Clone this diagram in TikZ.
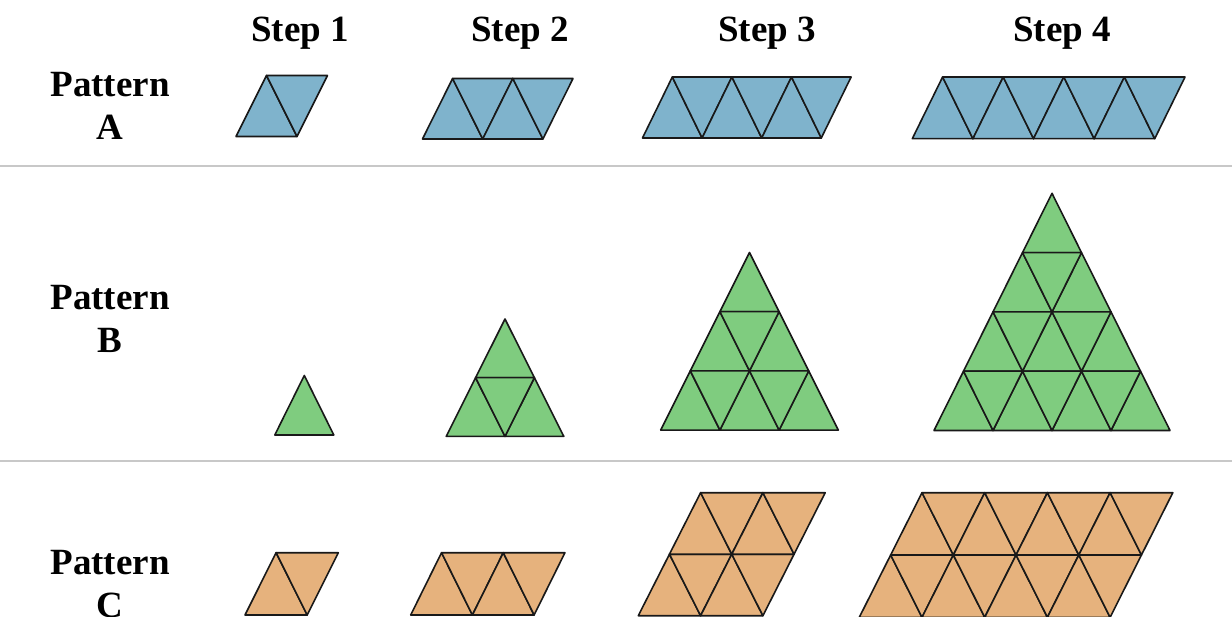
\documentclass[tikz,border=0pt]{standalone}
\usepackage{fontspec}
\setmainfont{Liberation Serif}
\definecolor{blueA}{RGB}{127,179,204}
\definecolor{greenB}{RGB}{127,204,127}
\definecolor{orangeC}{RGB}{230,178,125}
\definecolor{sepgray}{RGB}{200,200,200}
\definecolor{edge}{RGB}{25,25,25}
\tikzset{
  tile/.style={draw=edge, line width=1.6pt, line join=round},
  lbl/.style={font=\fontsize{37}{43}\selectfont\bfseries, inner sep=0pt, anchor=base, align=center},
  sepline/.style={draw=sepgray, line width=1.5pt}
}
% up triangle: bottom-left x, bottom y, base, height, fill
\newcommand{\uptri}[5]{\filldraw[tile, fill=#5] (#1,#2) -- ++(#3,0) -- ++(-#3/2,-#4) -- cycle;}
% down triangle: top-left x, top y, base, height, fill
\newcommand{\dntri}[5]{\filldraw[tile, fill=#5] (#1,#2) -- ++(#3,0) -- ++(-#3/2,#4) -- cycle;}
% parallelogram: x0, yb, b, h, n (width), m (rows), fill
\newcommand{\parapat}[7]{%
  \foreach \r in {1,...,#6}{%
    \foreach \i in {1,...,#5}{%
      \pgfmathsetmacro{\xb}{#1+(\r-1)*#3/2+(\i-1)*#3}%
      \pgfmathsetmacro{\yb}{#2-(\r-1)*#4}%
      \pgfmathsetmacro{\xt}{\xb+#3/2}%
      \pgfmathsetmacro{\yt}{\yb-#4}%
      \uptri{\xb}{\yb}{#3}{#4}{#7}
      \dntri{\xt}{\yt}{#3}{#4}{#7}
    }%
  }%
}
% triangle pattern: apex x, apex y, b, h, k rows, fill
\newcommand{\tripat}[6]{%
  \foreach \r in {1,...,#5}{%
    \foreach \i in {1,...,\r}{%
      \pgfmathsetmacro{\xb}{#1-\r*#3/2+(\i-1)*#3}%
      \pgfmathsetmacro{\yb}{#2+\r*#4}%
      \uptri{\xb}{\yb}{#3}{#4}{#6}
    }%
    \ifnum\r>1
      \foreach \i in {2,...,\r}{%
        \pgfmathsetmacro{\xt}{#1-(\r-1)*#3/2+(\i-2)*#3}%
        \pgfmathsetmacro{\yt}{#2+(\r-1)*#4}%
        \dntri{\xt}{\yt}{#3}{#4}{#6}
      }%
    \fi
  }%
}
\begin{document}
\begin{tikzpicture}[x=1pt,y=-1pt]
\useasboundingbox (0,0) rectangle (1232,617);
\clip (0,0) rectangle (1232,617);
\fill[white] (0,0) rectangle (1232,617);

% headers
\node[lbl] (s1) at (300,42) {Step 1};
\node[lbl] (s2) at (520,42) {Step 2};
\node[lbl] (s3) at (767,42) {Step 3};
\node[lbl] (s4) at (1062,42) {Step 4};

% row labels (anchor base = baseline of the last line)
\node[lbl] (pa) at (110,140) {Pattern\\A};
\node[lbl] (pb) at (110,353) {Pattern\\B};
\node[lbl] (pc) at (110,617) {Pattern\\C};

% separators
\coordinate (l1a) at (0,166); \coordinate (l1b) at (1232,166);
\coordinate (l2a) at (0,461); \coordinate (l2b) at (1232,461);
\draw[sepline] (l1a) -- (l1b);
\draw[sepline] (l2a) -- (l2b);

% Pattern A
\parapat{236}{136.5}{61}{61}{1}{1}{blueA}
\parapat{422.5}{139}{60.2}{60.5}{2}{1}{blueA}
\parapat{642.5}{138}{59.6}{61}{3}{1}{blueA}
\parapat{912.3}{138.7}{60.6}{61.7}{4}{1}{blueA}

% Pattern B
\tripat{304.3}{375.5}{59}{59.5}{1}{greenB}
\tripat{505}{319}{58.8}{58.7}{2}{greenB}
\tripat{749.5}{252.5}{59.2}{59.2}{3}{greenB}
\tripat{1052}{193.3}{59}{59.3}{4}{greenB}

% Pattern C
\parapat{245}{615}{62.2}{62.3}{1}{1}{orangeC}
\parapat{410.7}{615}{61.7}{62.3}{2}{1}{orangeC}
\parapat{638.3}{615.7}{62.3}{61.5}{2}{2}{orangeC}
\parapat{859.3}{617.3}{62.7}{62.3}{4}{2}{orangeC}
\end{tikzpicture}
\end{document}
